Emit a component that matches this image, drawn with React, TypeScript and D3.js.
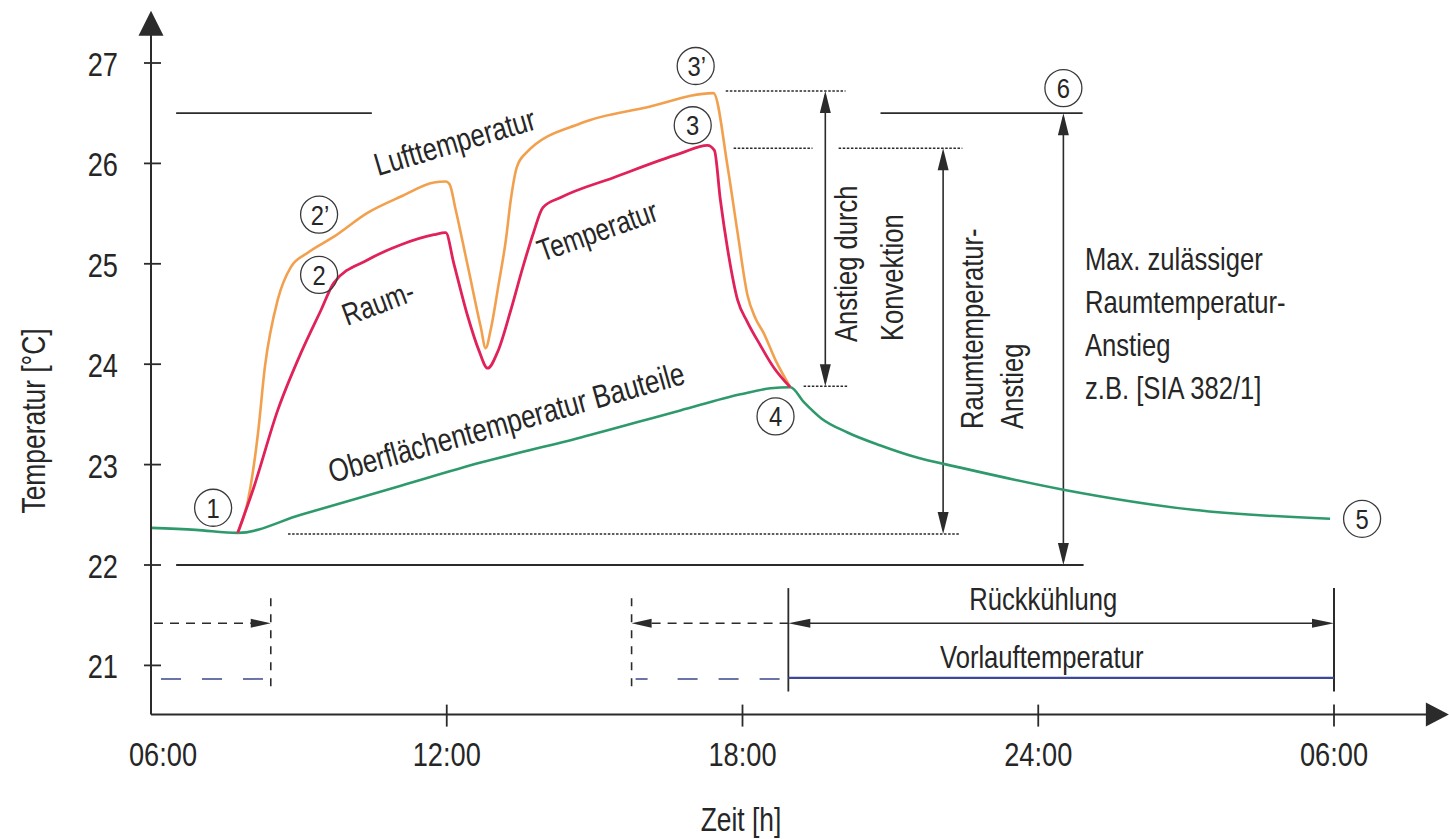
import React from "react";
import * as d3 from "d3";

// ---------- DATA (hours since 00:00 of day 1, temperature °C) ----------
const surfaceTemp: [number, number][] = [
  [6.0, 22.37], [6.91, 22.35], [7.76, 22.32], [9.04, 22.5], [11.07, 22.79],
  [12.69, 23.02], [14.72, 23.27], [16.74, 23.54], [17.96, 23.7], [18.57, 23.76],
  [18.97, 23.77], [19.25, 23.62], [19.6, 23.46], [20.13, 23.32], [20.8, 23.19],
  [21.47, 23.08], [22.42, 22.97], [24.51, 22.75], [27.14, 22.55], [29.92, 22.46],
];

const roomTemp: [number, number][] = [
  [7.76, 22.32], [8.09, 22.78], [8.57, 23.54], [9.04, 24.11], [9.45, 24.54],
  [9.71, 24.81], [10.4, 25.04], [11.07, 25.19], [11.74, 25.29], [11.98, 25.31],
  [12.14, 25.01], [12.43, 24.47], [12.65, 24.14], [12.83, 23.96], [13.03, 24.12],
  [13.3, 24.54], [13.54, 24.96], [13.76, 25.31], [13.95, 25.56], [14.31, 25.66],
  [15.39, 25.86], [16.74, 26.1], [17.29, 26.18], [17.43, 26.13], [17.55, 25.64],
  [17.7, 25.14], [17.9, 24.64], [18.1, 24.42], [18.36, 24.19], [18.63, 23.97],
  [18.97, 23.77],
];

const airTemp: [number, number][] = [
  [7.76, 22.32], [7.97, 22.65], [8.17, 23.31], [8.31, 23.97], [8.57, 24.64],
  [8.84, 24.97], [9.18, 25.11], [9.71, 25.27], [10.4, 25.51], [11.07, 25.67],
  [11.74, 25.81], [11.98, 25.82], [12.06, 25.79], [12.18, 25.54], [12.43, 24.97],
  [12.69, 24.37], [12.79, 24.16], [12.89, 24.34], [13.05, 24.79], [13.2, 25.24],
  [13.3, 25.64], [13.42, 25.96], [13.6, 26.1], [14.72, 26.4], [16.07, 26.56],
  [17.41, 26.7], [17.7, 25.96], [17.9, 25.31], [18.1, 24.69], [18.26, 24.46],
  [18.43, 24.31], [18.67, 24.04], [18.97, 23.77],
];

const yTicks = [21, 22, 23, 24, 25, 26, 27];
const xTicks = [12, 18, 24, 30];
const xTickValues = [6, 12, 18, 24, 30];
const xTickLabels = ["06:00", "12:00", "18:00", "24:00", "06:00"];

// reference levels (°C)
const maxAllowed = 26.5;
const baseLevel = 22;
const startLevel = 22.31;
const airPeak = 26.72;
const roomPeak = 26.15;
const meetLevel = 23.78;

// schedule (hours)
const coolStart = 18.93;
const coolEnd = 30;
const preEnd = 8.43;
const preStart2 = 15.75;

// point markers
const markers: { label: string; h: number; t: number }[] = [
  { label: "1", h: 7.26, t: 22.57 },
  { label: "2", h: 9.41, t: 24.89 },
  { label: "2’", h: 9.41, t: 25.49 },
  { label: "3’", h: 17.05, t: 26.97 },
  { label: "3", h: 16.99, t: 26.38 },
  { label: "4", h: 18.67, t: 23.48 },
  { label: "5", h: 30.57, t: 22.46 },
  { label: "6", h: 24.51, t: 26.75 },
];

const FONT = "'Liberation Sans', Arial, 'DejaVu Sans', sans-serif";
const SX = 0.8;

const W = 1449;
const H = 839;

const x = d3.scaleLinear().domain([6, 30]).range([151, 1334]);
const y = d3.scaleLinear().domain([22, 27]).range([565, 63]);

const line = d3
  .line<[number, number]>()
  .x((d) => x(d[0]))
  .y((d) => y(d[1]))
  .curve(d3.curveMonotoneX);

const INK = "#2b2b2b";
const TXT = "#262626";

function head(px: number, py: number, dir: "up" | "down" | "left" | "right", len: number, hw: number) {
  let pts: number[][] = [];
  if (dir === "up") pts = [[px, py], [px - hw, py + len], [px + hw, py + len]];
  if (dir === "down") pts = [[px, py], [px - hw, py - len], [px + hw, py - len]];
  if (dir === "left") pts = [[px, py], [px + len, py - hw], [px + len, py + hw]];
  if (dir === "right") pts = [[px, py], [px - len, py - hw], [px - len, py + hw]];
  return <polygon points={pts.map((p) => p.join(",")).join(" ")} fill={INK} />;
}

function VArrow({ h, t1, t2 }: { h: number; t1: number; t2: number }) {
  const px = x(h);
  const ya = y(t1);
  const yb = y(t2);
  return (
    <g>
      <line x1={px} x2={px} y1={ya + 4} y2={yb - 4} stroke={INK} strokeWidth={1.6} />
      {head(px, ya, "up", 22, 5.5)}
      {head(px, yb, "down", 22, 5.5)}
    </g>
  );
}

function HLine({ t, h1, h2, dotted, w }: { t: number; h1: number; h2: number; dotted?: boolean; w?: number }) {
  return (
    <line
      x1={x(h1)}
      x2={x(h2)}
      y1={y(t)}
      y2={y(t)}
      stroke={INK}
      strokeWidth={w ?? (dotted ? 1.5 : 1.8)}
      strokeDasharray={dotted ? "2.5 1.6" : undefined}
    />
  );
}

function T({
  px, py, angle = 0, size, anchor = "start", children, sx = SX,
}: { px: number; py: number; angle?: number; size: number; anchor?: string; children: React.ReactNode; sx?: number }) {
  return (
    <text
      transform={`translate(${px},${py}) rotate(${angle}) scale(${sx},1)`}
      fontSize={size}
      fill={TXT}
      textAnchor={anchor}
      fontFamily={FONT}
    >
      {children}
    </text>
  );
}

export default function App() {
  const axisY = y(20.51);
  const axisX = x(6);
  const rowArrow = y(21.42);
  const rowFlow = y(20.865);
  const vTop = y(21.67);
  const vBot = y(20.73);
  const sTop = y(21.77);
  const sBot = y(20.74);

  return (
    <svg
      width={W}
      height={H}
      style={{ position: "absolute", left: 0, top: 0, background: "#fff" }}
      fontFamily={FONT}
    >
      <rect width={W} height={H} fill="#fff" />

      {/* reference lines */}
      <HLine t={maxAllowed} h1={6.51} h2={10.48} />
      <HLine t={maxAllowed} h1={20.8} h2={24.9} />
      <HLine t={baseLevel} h1={6.51} h2={24.92} w={2.2} />
      <HLine t={startLevel} h1={8.78} h2={22.42} dotted />
      <HLine t={airPeak} h1={17.66} h2={20.09} dotted />
      <HLine t={roomPeak} h1={17.82} h2={19.42} dotted />
      <HLine t={roomPeak} h1={19.95} h2={22.46} dotted />
      <HLine t={meetLevel} h1={19.24} h2={20.15} dotted />

      {/* vertical arrows */}
      <VArrow h={19.68} t1={airPeak} t2={meetLevel} />
      <VArrow h={22.07} t1={roomPeak} t2={startLevel} />
      <VArrow h={24.51} t1={maxAllowed} t2={baseLevel} />

      {/* curves */}
      <path d={line(surfaceTemp) ?? ""} fill="none" stroke="#2e9a6c" strokeWidth={2.6} />
      <path d={line(airTemp) ?? ""} fill="none" stroke="#f2a04e" strokeWidth={2.6} />
      <path d={line(roomTemp) ?? ""} fill="none" stroke="#e0215a" strokeWidth={2.8} />

      {/* curve labels */}
      <T px={378} py={176} angle={-16.5} size={32}>Lufttemperatur</T>
      <T px={347} py={326} angle={-20.5} size={31}>Raum-</T>
      <T px={542} py={262} angle={-19.6} size={31}>Temperatur</T>
      <T px={332} py={483} angle={-15.7} size={32.5}>Oberflächentemperatur Bauteile</T>

      {/* vertical annotation texts */}
      <T px={857} py={342} angle={-90} size={32}>Anstieg durch</T>
      <T px={903} py={341} angle={-90} size={32}>Konvektion</T>
      <T px={983} py={429} angle={-90} size={32}>Raumtemperatur-</T>
      <T px={1023} py={429} angle={-90} size={32}>Anstieg</T>

      {/* right text block */}
      {["Max. zulässiger", "Raumtemperatur-", "Anstieg", "z.B. [SIA 382/1]"].map((s, i) => (
        <T key={s} px={1085} py={270 + i * 43} size={32}>{s}</T>
      ))}

      {/* markers */}
      {markers.map((m) => (
        <g key={m.label}>
          <circle cx={x(m.h)} cy={y(m.t)} r={18.5} fill="none" stroke="#3a3a3a" strokeWidth={1.3} />
          <T px={x(m.h) + (m.label.length > 1 ? 1 : 0)} py={y(m.t) + 10} size={28} anchor="middle" sx={0.85}>
            {m.label}
          </T>
        </g>
      ))}

      {/* schedule bars */}
      <line x1={axisX + 3} x2={x(preEnd) - 20} y1={rowArrow} y2={rowArrow} stroke={INK} strokeWidth={1.6} strokeDasharray="9 7" />
      {head(x(preEnd), rowArrow, "right", 20, 4.5)}
      <line x1={x(preEnd)} x2={x(preEnd)} y1={vTop} y2={vBot} stroke={INK} strokeWidth={1.6} strokeDasharray="8 8" />
      <line x1={axisX + 10} x2={x(preEnd)} y1={rowFlow} y2={rowFlow} stroke="#6b74a6" strokeWidth={2} strokeDasharray="20 21" />

      <line x1={x(preStart2)} x2={x(preStart2)} y1={vTop} y2={vBot} stroke={INK} strokeWidth={1.6} strokeDasharray="8 8" />
      {head(x(preStart2), rowArrow, "left", 20, 4.5)}
      <line x1={x(preStart2) + 20} x2={x(coolStart)} y1={rowArrow} y2={rowArrow} stroke={INK} strokeWidth={1.6} strokeDasharray="9 7" />
      <line x1={x(preStart2) + 4} x2={x(coolStart)} y1={rowFlow} y2={rowFlow} stroke="#6b74a6" strokeWidth={2} strokeDasharray="12 30 20 21 20 21 20 21" />

      <line x1={x(coolStart)} x2={x(coolStart)} y1={sTop} y2={sBot} stroke={INK} strokeWidth={1.8} />
      <line x1={x(coolEnd)} x2={x(coolEnd)} y1={sTop} y2={sBot} stroke={INK} strokeWidth={2} />
      <line x1={x(coolStart) + 18} x2={x(coolEnd) - 18} y1={rowArrow} y2={rowArrow} stroke={INK} strokeWidth={1.6} />
      {head(x(coolStart), rowArrow, "left", 22, 4.5)}
      {head(x(coolEnd), rowArrow, "right", 22, 4.5)}
      <line x1={x(coolStart)} x2={x(coolEnd)} y1={y(20.875)} y2={y(20.875)} stroke="#3e4896" strokeWidth={2.2} />
      <T px={x(24.1)} py={y(21.55)} size={32} anchor="middle">Rückkühlung</T>
      <T px={x(24.07)} py={y(20.97)} size={32} anchor="middle">Vorlauftemperatur</T>

      {/* axes */}
      <line x1={axisX} x2={axisX} y1={y(27.3)} y2={axisY} stroke={INK} strokeWidth={2} />
      {head(axisX, y(27.52), "up", 25, 12.5)}
      <line x1={axisX} x2={x(32)} y1={axisY} y2={axisY} stroke={INK} strokeWidth={2} />
      {head(x(32.33), axisY, "right", 23, 12)}

      {yTicks.map((t) => (
        <g key={t}>
          <line x1={axisX - 7} x2={axisX + 10} y1={y(t)} y2={y(t)} stroke={INK} strokeWidth={1.8} />
          <T px={118} py={y(t) + 13} size={34} anchor="end">{t}</T>
        </g>
      ))}
      {xTicks.map((h) => (
        <line key={h} x1={x(h)} x2={x(h)} y1={axisY - 10} y2={axisY + 12} stroke={INK} strokeWidth={1.8} />
      ))}
      {xTickValues.map((h, i) => (
        <T key={i} px={i === 0 ? x(h) + 12 : x(h)} py={axisY + 51} size={34} anchor="middle">
          {xTickLabels[i]}
        </T>
      ))}

      <T px={741} py={831} size={33} anchor="middle">Zeit [h]</T>
      <T px={45} py={421} angle={-90} size={33} anchor="middle">Temperatur [°C]</T>
    </svg>
  );
}
